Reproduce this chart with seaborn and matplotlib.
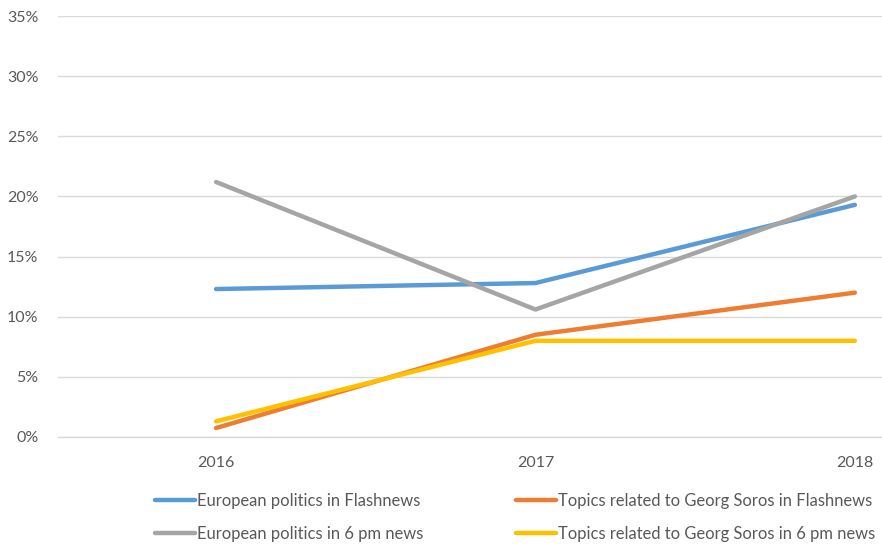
import pandas as pd
import matplotlib.pyplot as plt
import seaborn as sns
from matplotlib.ticker import PercentFormatter

# values (fractions)
years = ["2016", "2017", "2018"]
eu_flash = [0.123, 0.128, 0.193]
soros_flash = [0.0075, 0.085, 0.120]
eu_6pm = [0.212, 0.106, 0.200]
soros_6pm = [0.013, 0.080, 0.080]

series_names = [
    "European politics in Flashnews",
    "Topics related to Georg Soros in Flashnews",
    "European politics in 6 pm news",
    "Topics related to Georg Soros in 6 pm news",
]
series_values = [eu_flash, soros_flash, eu_6pm, soros_6pm]
colors = ["#5B9BD5", "#ED7D31", "#A5A5A5", "#FFC000"]

rows = []
for name, vals in zip(series_names, series_values):
    for i, v in enumerate(vals):
        rows.append({"x": i, "year": years[i], "series": name, "value": v})
df = pd.DataFrame(rows)

sns.set_style("white")
plt.rcParams["font.family"] = ["Lato", "DejaVu Sans"]

fig = plt.figure(figsize=(8.82, 5.48), dpi=100)
ax = fig.add_axes([58 / 882, 1 - 437 / 548, 1 - 58 / 882, (437 - 16) / 548])

sns.lineplot(data=df, x="x", y="value", hue="series", hue_order=series_names,
             palette=colors, linewidth=3.2, ax=ax, legend=True, sort=False)

ax.set_xlim(-0.495, 2.085)
ax.set_ylim(0, 0.35)
ax.set_xticks(range(len(years)))
ax.set_xticklabels(years)
ax.set_yticks([i * 0.05 for i in range(8)])
ax.yaxis.set_major_formatter(PercentFormatter(1.0, decimals=0))
ax.grid(axis="y", color="#D9D9D9", linewidth=1)
ax.set_axisbelow(True)
for s in ax.spines.values():
    s.set_visible(False)
# baseline at 0% (otherwise the gridline is half clipped)
ax.axhline(0, color="#D9D9D9", linewidth=1, clip_on=False, zorder=0)
ax.tick_params(axis="both", length=0, labelsize=11.5, labelcolor="#595959")
ax.tick_params(axis="x", pad=14)
ax.tick_params(axis="y", pad=14)
ax.set_xlabel("")
ax.set_ylabel("")

handles, labels = ax.get_legend_handles_labels()
order = [0, 2, 1, 3]
ax.legend([handles[i] for i in order], [labels[i] for i in order],
          ncol=2, loc="upper left", bbox_to_anchor=(140 / 882, 1 - 478 / 548),
          bbox_transform=fig.transFigure, frameon=False, fontsize=11.9,
          handlelength=2.4, handletextpad=0.15, columnspacing=5.6,
          labelspacing=1.05, labelcolor="#595959")

fig.savefig("out.png", dpi=100)
